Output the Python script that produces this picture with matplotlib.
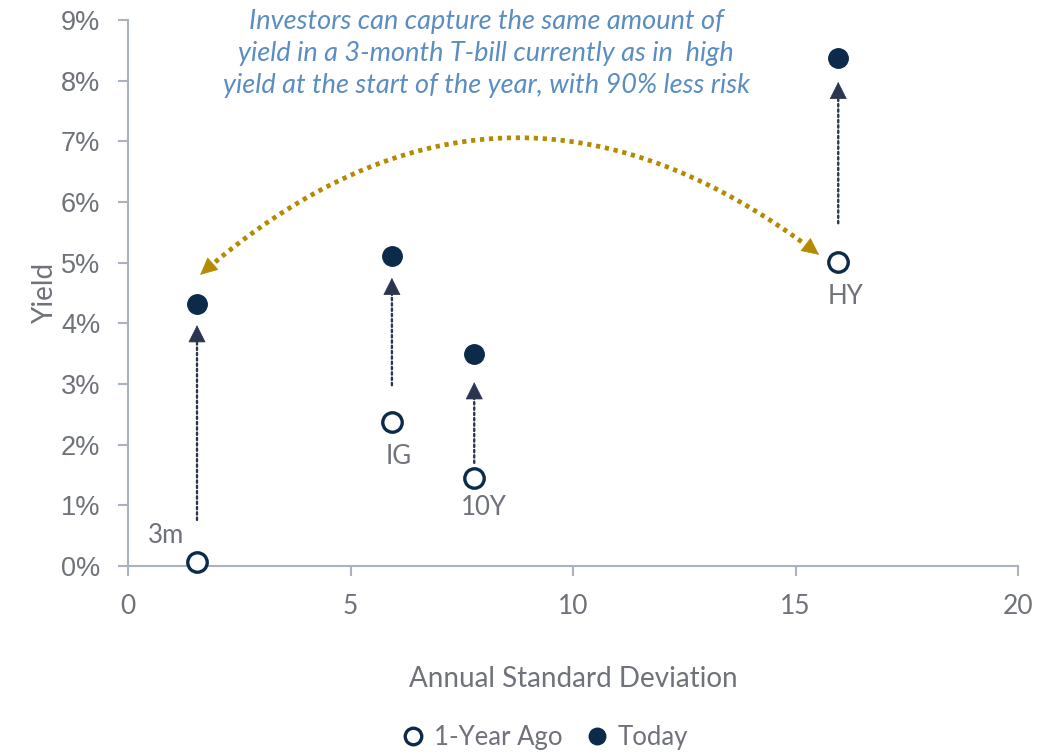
import matplotlib
matplotlib.use("Agg")
import numpy as np
import matplotlib.pyplot as plt
from matplotlib.ticker import FuncFormatter

# Asset classes: annual standard deviation vs. yield (%)
assets = ["3m", "IG", "10Y", "HY"]
std_dev = [1.55, 5.93, 7.78, 15.96]
yield_year_ago = [0.07, 2.37, 1.45, 5.01]
yield_today = [4.32, 5.11, 3.49, 8.37]

# Vertical change arrows (start, tip) in yield units
arrow_start = [0.76, 2.98, 1.70, 5.65]
arrow_tip = [3.97, 4.75, 3.03, 7.98]

x_ticks = [0, 5, 10, 15, 20]
y_ticks = [0, 1, 2, 3, 4, 5, 6, 7, 8, 9]

NAVY = "#0c2a4a"
ARROW = "#2c3550"
GOLD = "#b38a00"
NOTE = "#5a8dc2"
GREY_TXT = "#6f717b"
AXIS = "#a9b2bf"

plt.rcParams["font.family"] = ["Lato", "DejaVu Sans"]

fig = plt.figure(figsize=(10.59, 7.54), dpi=100)
ax = fig.add_axes([0.1209, 0.2493, 0.8404, 0.7241])

ax.set_xlim(0, 20)
ax.set_ylim(0, 9)
ax.set_xticks(x_ticks)
ax.set_yticks(y_ticks)
ax.yaxis.set_major_formatter(FuncFormatter(lambda v, p: f"{v:.0f}%"))

for side in ("top", "right"):
    ax.spines[side].set_visible(False)
for side in ("left", "bottom"):
    ax.spines[side].set_color(AXIS)
    ax.spines[side].set_linewidth(1.5)
    ax.spines[side].set_zorder(0)

ax.tick_params(axis="both", colors=AXIS, width=1.5, length=7, labelcolor=GREY_TXT)
ax.tick_params(axis="x", labelsize=19, pad=13)
ax.tick_params(axis="y", labelsize=19.5, pad=13)
for lab in ax.get_yticklabels():
    lab.set_fontfamily("Liberation Sans")

ax.set_xlabel("Annual Standard Deviation", fontsize=20, color=GREY_TXT, labelpad=34)
ax.set_ylabel("Yield", fontsize=20, color=GREY_TXT, labelpad=2)

HEAD = "-|>,head_length=1.15,head_width=0.58"

# Dotted arrows showing the rise in yield
for x, y0, y1 in zip(std_dev, arrow_start, arrow_tip):
    ax.annotate("", xy=(x, y1), xytext=(x, y0),
                arrowprops=dict(arrowstyle="-", color=ARROW, lw=1.7,
                                linestyle=(0, (1, 1.25)), shrinkA=0, shrinkB=9),
                zorder=2)
    ax.annotate("", xy=(x, y1), xytext=(0, -11.5), textcoords="offset points",
                arrowprops=dict(arrowstyle=HEAD, color=ARROW, lw=0.5,
                                shrinkA=0, shrinkB=0), zorder=2)

ax.plot(std_dev, yield_year_ago, "o", ls="none", markersize=14,
        markerfacecolor="white", markeredgecolor=NAVY, markeredgewidth=2.4,
        label="1-Year Ago", zorder=4, clip_on=False)
ax.plot(std_dev, yield_today, "o", ls="none", markersize=14,
        color=NAVY, label="Today", zorder=4, clip_on=False)

# Asset labels next to the year-ago markers
label_offsets = [(-22, 19), (5, -25), (7, -21), (5, -25)]
for name, x, y, off in zip(assets, std_dev, yield_year_ago, label_offsets):
    ax.annotate(name, xy=(x, y), xytext=off, textcoords="offset points",
                ha="center", va="center", fontsize=18.5, color=GREY_TXT)

# Curved double arrow linking high yield a year ago to the T-bill today
T = ax.transData
p_left = np.array(T.transform((1.62, 4.80)))
p_right = np.array(T.transform((15.53, 5.13)))
d = p_right - p_left
ctrl = (p_left + p_right) / 2 + 0.41 * np.array([-d[1], d[0]])
t = np.linspace(0.025, 0.975, 300)[:, None]
curve = (1 - t) ** 2 * p_left + 2 * (1 - t) * t * ctrl + t ** 2 * p_right
curve_data = T.inverted().transform(curve)
ax.plot(curve_data[:, 0], curve_data[:, 1], color=GOLD, lw=3.4,
        linestyle=(0, (0.9, 1.0)), dash_capstyle="butt", zorder=3)
for tip in (p_left, p_right):
    u = (tip - ctrl) / np.linalg.norm(tip - ctrl)
    base = T.inverted().transform(tip - u * 16)
    ax.annotate("", xy=tuple(T.inverted().transform(tip)), xytext=tuple(base),
                arrowprops=dict(arrowstyle="-|>,head_length=1.15,head_width=0.55",
                                color=GOLD, lw=0.5, shrinkA=0, shrinkB=0),
                zorder=3)

ax.text(8.05, 8.45,
        "Investors can capture the same amount of\n"
        "yield in a 3-month T-bill currently as in  high\n"
        "yield at the start of the year, with 90% less risk",
        ha="center", va="center", style="italic", fontsize=19.5,
        color=NOTE, linespacing=1.36)

fig.legend(loc="center", bbox_to_anchor=(0.514, 0.0225), ncol=2, frameon=False,
           fontsize=18.5, handlelength=1.0, handletextpad=0.3, columnspacing=0.85,
           labelcolor=GREY_TXT, markerscale=0.85)

fig.savefig("out.png", dpi=100)
